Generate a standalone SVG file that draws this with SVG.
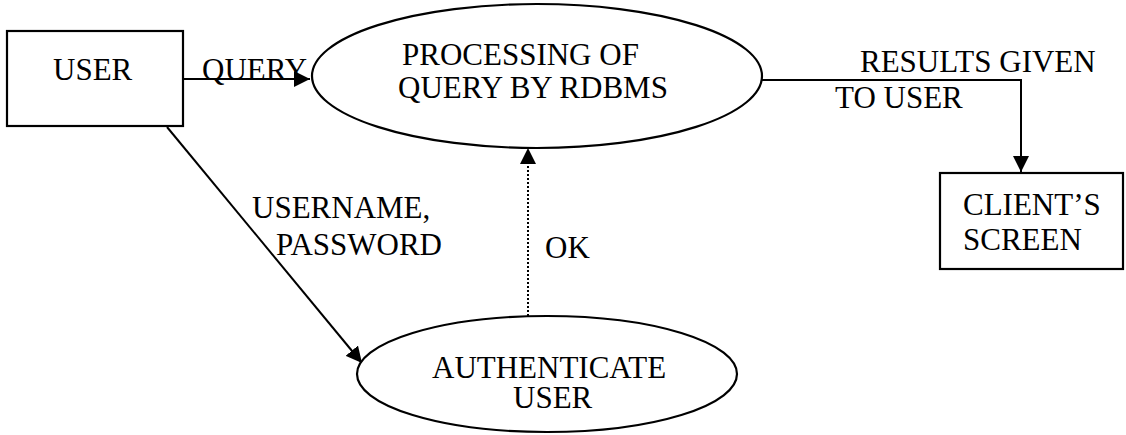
<svg xmlns="http://www.w3.org/2000/svg" width="1126" height="435" viewBox="0 0 1126 435">
  <defs>
    <style>
      .shape { fill: #ffffff; stroke: #000000; stroke-width: 2.2; }
      .line { fill: none; stroke: #000000; stroke-width: 2; }
      .dotted { fill: none; stroke: #000000; stroke-width: 2; stroke-dasharray: 2 2; }
      .t { font-family: 'Liberation Serif', 'Times New Roman', Times, 'DejaVu Serif', serif; font-size: 31px; fill: #000000; }
    </style>
    <marker id="arrow" viewBox="0 0 10 10" refX="10" refY="5" markerWidth="16" markerHeight="16" markerUnits="userSpaceOnUse" orient="auto">
      <path d="M0,0 L10,5 L0,10 Z" fill="#000000"/>
    </marker>
  </defs>
  <rect width="1126" height="435" fill="#ffffff"/>

  <!-- connectors -->
  <g id="connectors">
    <line class="line" x1="183" y1="79" x2="310" y2="79" marker-end="url(#arrow)"/>
    <polyline class="line" points="762,80 1021,80 1021,172" marker-end="url(#arrow)"/>
    <line class="line" x1="167" y1="127" x2="362" y2="363" marker-end="url(#arrow)"/>
    <line class="dotted" x1="528" y1="316" x2="528" y2="164"/>
    <path d="M520,164 L528,148 L536,164 Z" fill="#000000"/>
  </g>

  <!-- connector labels -->
  <g id="labels" class="t" font-family="Liberation Serif, serif">
    <text x="202" y="80">QUERY</text>
    <text x="860" y="72">RESULTS GIVEN</text>
    <text x="835" y="108">TO USER</text>
    <text x="252" y="218">USERNAME,</text>
    <text x="276" y="255">PASSWORD</text>
    <text x="545" y="258">OK</text>
  </g>

  <!-- nodes -->
  <g id="user">
    <rect class="shape" x="7" y="31" width="176" height="95"/>
    <text class="t" x="53" y="80">USER</text>
  </g>

  <g id="processing">
    <ellipse class="shape" cx="537" cy="76" rx="225" ry="72"/>
    <text class="t" x="402" y="65">PROCESSING OF</text>
    <text class="t" x="398" y="98">QUERY BY RDBMS</text>
  </g>

  <g id="authenticate">
    <ellipse class="shape" cx="547" cy="374" rx="190" ry="58"/>
    <text class="t" x="432" y="378">AUTHENTICATE</text>
    <text class="t" x="513" y="408">USER</text>
  </g>

  <g id="client-screen">
    <rect class="shape" x="940" y="173" width="183" height="96"/>
    <text class="t" x="963" y="215">CLIENT’S</text>
    <text class="t" x="963" y="250">SCREEN</text>
  </g>
</svg>
